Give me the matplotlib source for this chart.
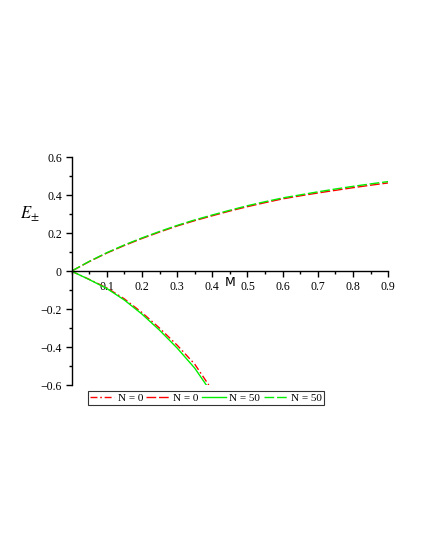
import numpy as np
import matplotlib.pyplot as plt
from matplotlib.ticker import MultipleLocator, FixedLocator

# upper branch (E+)
M_up = [0, 0.05, 0.1, 0.15, 0.2, 0.25, 0.3, 0.35, 0.4, 0.45, 0.5, 0.55, 0.6, 0.65, 0.7, 0.75, 0.8, 0.85, 0.9]
E_up_N0 = [0, 0.050, 0.095, 0.135, 0.172, 0.206, 0.238, 0.266, 0.292, 0.317, 0.340, 0.361, 0.381, 0.397, 0.412, 0.426, 0.440, 0.453, 0.465]
E_up_N50 = [0, 0.051, 0.097, 0.138, 0.175, 0.209, 0.241, 0.270, 0.296, 0.321, 0.345, 0.366, 0.386, 0.402, 0.418, 0.433, 0.447, 0.460, 0.472]

# lower branch (E-)
M_lo_N0 = [0, 0.05, 0.1, 0.15, 0.2, 0.25, 0.3, 0.35, 0.39]
E_lo_N0 = [0, -0.043, -0.088, -0.146, -0.218, -0.300, -0.390, -0.490, -0.600]
M_lo_N50 = [0, 0.05, 0.1, 0.15, 0.2, 0.25, 0.3, 0.35, 0.383]
E_lo_N50 = [0, -0.044, -0.091, -0.152, -0.226, -0.311, -0.405, -0.511, -0.600]

labels = ["N = 0", "N = 0", "N = 50", "N = 50"]

plt.rcParams["font.family"] = "Liberation Serif"
plt.rcParams["mathtext.fontset"] = "stix"

fig = plt.figure(figsize=(4.25, 5.5), dpi=100)
ax = fig.add_axes([71.5 / 425, 0.30, 316.8 / 425, 0.414])

l1, = ax.plot(M_lo_N0, E_lo_N0, color="red", lw=1.0, dashes=(5, 2, 1.2, 2))
l2, = ax.plot(M_up, E_up_N0, color="red", lw=1.0, dashes=(7, 2))
l3, = ax.plot(M_lo_N50, E_lo_N50, color="#00ee00", lw=1.0)
l4, = ax.plot(M_up, E_up_N50, color="#00ee00", lw=1.0, dashes=(7, 2))

ax.set_xlim(0, 0.9)
ax.set_ylim(-0.6, 0.6)
ax.spines["left"].set_position(("data", 0))
ax.spines["bottom"].set_position(("data", 0))
ax.spines["top"].set_visible(False)
ax.spines["right"].set_visible(False)

ax.xaxis.set_major_locator(FixedLocator([0.1, 0.2, 0.3, 0.4, 0.5, 0.6, 0.7, 0.8, 0.9]))
ax.xaxis.set_minor_locator(MultipleLocator(0.05))
ax.yaxis.set_major_locator(MultipleLocator(0.2))
ax.yaxis.set_minor_locator(MultipleLocator(0.1))
ax.set_xticklabels(["0.1", "0.2", "0.3", "0.4", "0.5", "0.6", "0.7", "0.8", "0.9"])
ax.set_yticks([-0.6, -0.4, -0.2, 0, 0.2, 0.4, 0.6])
ax.set_yticklabels(["\u22120.6", "\u22120.4", "\u22120.2", "0", "0.2", "0.4", "0.6"])
ax.tick_params(which="major", length=4, width=1, labelsize=8.5, pad=3)
ax.tick_params(which="minor", length=2, width=1)
for sp in ["left", "bottom"]:
    ax.spines[sp].set_linewidth(1)

ax.text(0.45, -0.06, "M", family="DejaVu Sans", fontsize=9, ha="center", va="center")
fig.text(30 / 425, 1 - 214 / 550, r"$E_{\pm}$", fontsize=12, ha="center", va="center")

leg = fig.legend([l1, l2, l3, l4], labels, ncol=4, loc="center",
                 bbox_to_anchor=(206 / 425, 1 - 398 / 550), fontsize=8,
                 frameon=True, fancybox=False, edgecolor="black",
                 handlelength=2.1, handletextpad=0.35, columnspacing=0.3,
                 borderpad=0.2, borderaxespad=0)
leg.get_frame().set_linewidth(0.8)

fig.savefig("out.png", dpi=100)
